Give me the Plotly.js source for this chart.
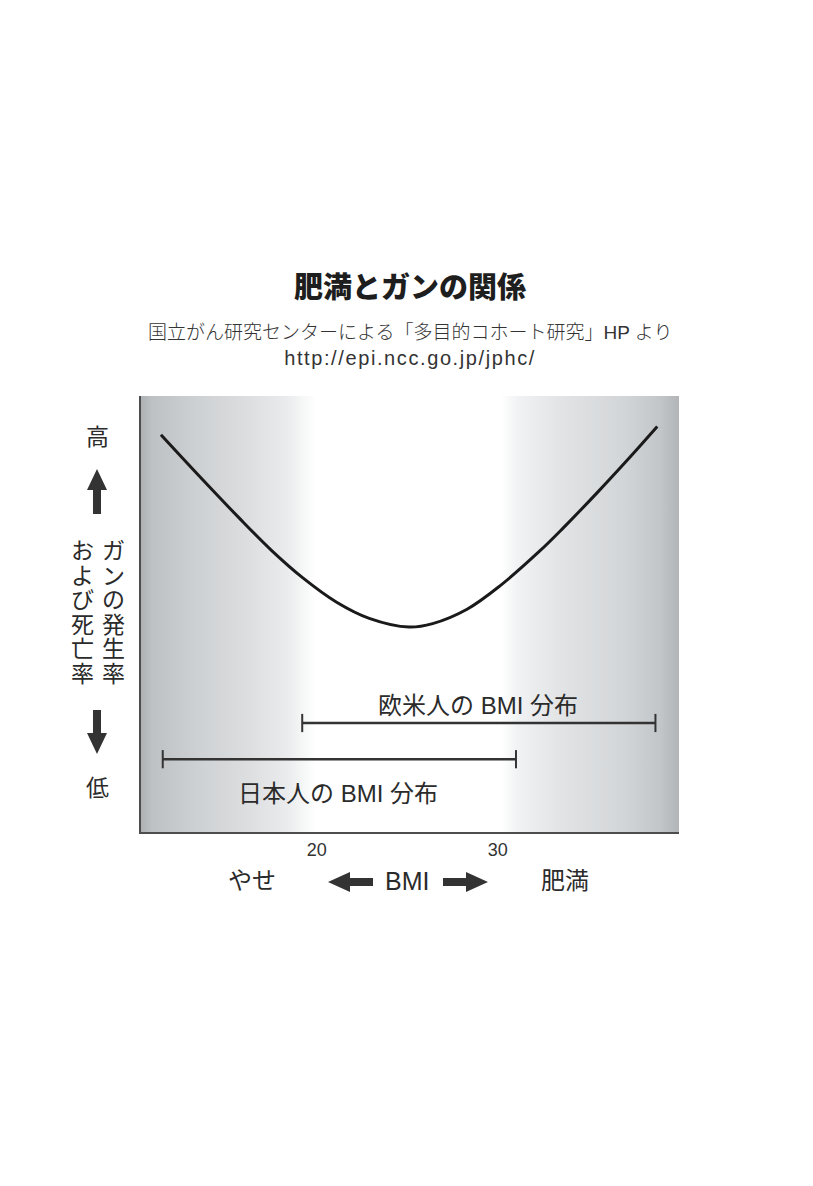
<!DOCTYPE html>
<html>
<head>
<meta charset="utf-8">
<script src="https://cdn.plot.ly/plotly-3.0.1.min.js"></script>
<style>
  html, body { margin: 0; padding: 0; background: #ffffff; }
  #chart { width: 813px; height: 1186px; }
</style>
</head>
<body>
<div id="chart"></div>
<script>
// ---- data ----
const bmi  = [11.4, 13.5, 15.7, 17.5, 19.2, 21.1, 22.9, 25.1, 26.4, 28.3, 30.1, 32.3, 33.6, 35.5, 37.3, 38.8];
const risk = [91.1, 81.7, 72.1, 64.6, 58.4, 52.7, 49.0, 47.0, 47.8, 51.1, 56.4, 64.4, 69.7, 77.9, 86.0, 93.0];

const rangeNames = ['欧米人の BMI 分布', '日本人の BMI 分布'];
const rangeLow   = [19.2, 11.5];
const rangeHigh  = [38.7, 31.0];
const rangeLevel = [25.0, 16.7];

const tickValues = [20, 30];
const tickLabels = ['20', '30'];

const titleText = '肥満とガンの関係';
const subLine1 = '国立がん研究センターによる「多目的コホート研究」HP より';
const subLine2 = 'http://epi.ncc.go.jp/jphc/';
const yHigh = '高';
const yLow = '低';
const yCol1 = 'ガンの発生率';
const yCol2 = 'および死亡率';
const xLeftLabel = 'やせ';
const xMidLabel = 'BMI';
const xRightLabel = '肥満';

// ---- layout helpers (plot area pixels -> paper) ----
const L = 141, R = 679, T = 396, B = 832;
const px = x => (x - L) / (R - L);
const py = y => (B - y) / (B - T);
function path(pts) {
  return 'M' + pts.map(p => px(p[0]).toFixed(5) + ',' + py(p[1]).toFixed(5)).join(' L') + ' Z';
}

const FONT = '"Liberation Sans", "Noto Sans CJK JP", sans-serif';
const TXT = '#2b2b2b';

// gradient background as svg image
const stops = [
  [0.00, '#aeb1b4'], [0.02, '#bec1c4'], [0.10, '#cdd0d2'], [0.20, '#dcdee0'], [0.27, '#e9ebec'],
  [0.30, '#f5f6f6'], [0.325, '#ffffff'], [0.67, '#ffffff'], [0.70, '#f1f2f3'],
  [0.77, '#e3e5e7'], [0.90, '#d2d5d7'], [0.965, '#c3c6c9'], [1.00, '#b2b5b8']
];
const svg = '<svg xmlns="http://www.w3.org/2000/svg" width="538" height="436" preserveAspectRatio="none">' +
  '<defs><linearGradient id="g" x1="0" y1="0" x2="1" y2="0">' +
  stops.map(s => '<stop offset="' + s[0] + '" stop-color="' + s[1] + '"/>').join('') +
  '</linearGradient></defs><rect width="538" height="436" fill="url(#g)"/></svg>';
const bgSrc = 'data:image/svg+xml;charset=utf-8,' + encodeURIComponent(svg);

const traces = [
  {
    x: bmi, y: risk, type: 'scatter', mode: 'lines',
    line: { color: '#1a1a1a', width: 3, shape: 'spline', smoothing: 1.0 },
    hoverinfo: 'skip', showlegend: false
  }
];
rangeNames.forEach((n, i) => {
  traces.push({
    x: [rangeLow[i], rangeHigh[i]], y: [rangeLevel[i], rangeLevel[i]],
    type: 'scatter', mode: 'lines+markers', name: n,
    line: { color: '#333333', width: 2.5 },
    marker: { symbol: 'line-ns-open', size: 13, line: { color: '#333333', width: 2 } },
    hoverinfo: 'skip', showlegend: false
  });
});

const annotations = [
  { text: subLine1, x: 0.5, y: py(333), xref: 'paper', yref: 'paper', showarrow: false,
    xanchor: 'center', yanchor: 'middle', font: { family: FONT, size: 19, color: '#333333', weight: 300 } },
  { text: subLine2, x: px(410), y: py(358), xref: 'paper', yref: 'paper', showarrow: false,
    xanchor: 'center', yanchor: 'middle', font: { family: FONT, size: 20, color: '#333333', weight: 300 } },
  { text: rangeNames[0], x: 28.9, y: 29.1, xref: 'x', yref: 'y', showarrow: false,
    xanchor: 'center', yanchor: 'middle', font: { family: FONT, size: 24, color: TXT } },
  { text: rangeNames[1], x: 21.2, y: 8.9, xref: 'x', yref: 'y', showarrow: false,
    xanchor: 'center', yanchor: 'middle', font: { family: FONT, size: 24, color: TXT } },
  { text: yHigh, x: px(97), y: py(437), xref: 'paper', yref: 'paper', showarrow: false,
    xanchor: 'center', yanchor: 'middle', font: { family: FONT, size: 23, color: TXT } },
  { text: yLow, x: px(97), y: py(788), xref: 'paper', yref: 'paper', showarrow: false,
    xanchor: 'center', yanchor: 'middle', font: { family: FONT, size: 23, color: TXT } },
  { text: xLeftLabel, x: px(252), y: py(880), xref: 'paper', yref: 'paper', showarrow: false,
    xanchor: 'center', yanchor: 'middle', font: { family: FONT, size: 24, color: TXT } },
  { text: xMidLabel, x: px(407), y: py(881), xref: 'paper', yref: 'paper', showarrow: false,
    xanchor: 'center', yanchor: 'middle', font: { family: FONT, size: 25, color: TXT } },
  { text: xRightLabel, x: px(565), y: py(880), xref: 'paper', yref: 'paper', showarrow: false,
    xanchor: 'center', yanchor: 'middle', font: { family: FONT, size: 24, color: TXT } }
];
// vertical y-axis text columns
[[yCol1, 113], [yCol2, 82]].forEach(([str, cx]) => {
  Array.from(str).forEach((ch, i) => {
    annotations.push({ text: ch, x: px(cx), y: py(551 + i * 24.5), xref: 'paper', yref: 'paper',
      showarrow: false, xanchor: 'center', yanchor: 'middle',
      font: { family: FONT, size: 23, color: TXT } });
  });
});

const arrowStyle = { type: 'path', xref: 'paper', yref: 'paper', fillcolor: '#333333', line: { width: 0 }, layer: 'above' };
const shapes = [
  Object.assign({ path: path([[97,469],[107,490],[101,490],[101,514],[93,514],[93,490],[87,490]]) }, arrowStyle),
  Object.assign({ path: path([[97,754],[107,733],[101,733],[101,710],[93,710],[93,733],[87,733]]) }, arrowStyle),
  Object.assign({ path: path([[328,882],[350,872],[350,878],[373,878],[373,886],[350,886],[350,892]]) }, arrowStyle),
  Object.assign({ path: path([[488,882],[466,872],[466,878],[443,878],[443,886],[466,886],[466,892]]) }, arrowStyle)
];

const layout = {
  width: 813, height: 1186,
  margin: { l: L, r: 813 - R, t: T, b: 1186 - B, pad: 0 },
  paper_bgcolor: '#ffffff', plot_bgcolor: '#c8cbce',
  showlegend: false,
  title: { text: titleText, x: 410 / 813, xref: 'container', y: 1 - 288 / 1186, yref: 'container',
           xanchor: 'center', yanchor: 'middle',
           font: { family: '"Noto Sans CJK JP", sans-serif', size: 29, color: '#1e1e1e', weight: 900 } },
  xaxis: {
    range: [10.3, 40.0], showgrid: false, zeroline: false,
    showline: true, linecolor: '#4d4d4d', linewidth: 2,
    tickvals: tickValues, ticktext: tickLabels, ticks: '',
    tickfont: { family: FONT, size: 18, color: '#333333' }, ticklabelstandoff: 0,
    fixedrange: true
  },
  yaxis: {
    range: [0, 100], showgrid: false, zeroline: false,
    showline: true, linecolor: '#4d4d4d', linewidth: 2,
    showticklabels: false, ticks: '', fixedrange: true
  },
  images: [{ source: bgSrc, xref: 'paper', yref: 'paper', x: 0, y: 1, sizex: 1, sizey: 1,
             sizing: 'stretch', xanchor: 'left', yanchor: 'top', layer: 'below' }],
  annotations: annotations,
  shapes: shapes
};

Plotly.newPlot('chart', traces, layout, { displayModeBar: false, staticPlot: true }).then(gd => {
  // widen the URL line's tracking to match the reference typesetting
  gd.querySelectorAll('.annotation-text').forEach(t => {
    if (t.textContent === subLine2) t.style.letterSpacing = '1.6px';
  });
});
</script>
</body>
</html>
